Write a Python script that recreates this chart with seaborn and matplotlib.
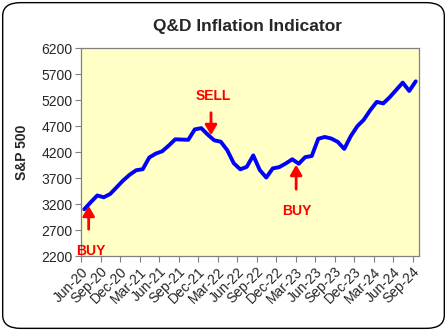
import numpy as np
import pandas as pd
import seaborn as sns
import matplotlib
matplotlib.use("Agg")
import matplotlib.pyplot as plt
from matplotlib.patches import FancyBboxPatch

months = ["Jun-20","Jul-20","Aug-20","Sep-20","Oct-20","Nov-20","Dec-20",
          "Jan-21","Feb-21","Mar-21","Apr-21","May-21","Jun-21","Jul-21","Aug-21","Sep-21","Oct-21","Nov-21","Dec-21",
          "Jan-22","Feb-22","Mar-22","Apr-22","May-22","Jun-22","Jul-22","Aug-22","Sep-22","Oct-22","Nov-22","Dec-22",
          "Jan-23","Feb-23","Mar-23","Apr-23","May-23","Jun-23","Jul-23","Aug-23","Sep-23","Oct-23","Nov-23","Dec-23",
          "Jan-24","Feb-24","Mar-24","Apr-24","May-24","Jun-24","Jul-24","Aug-24","Sep-24"]
sp500 = [3104, 3240, 3370, 3335, 3400, 3530, 3660, 3770, 3855, 3875,
         4100, 4175, 4220, 4330, 4450, 4445, 4440, 4640, 4665, 4540,
         4430, 4404, 4240, 3990, 3873, 3920, 4140, 3860, 3715, 3890,
         3915, 3985, 4066, 3980, 4108, 4128, 4460, 4495, 4465, 4400,
         4265, 4510, 4700, 4825, 5010, 5170, 5140, 5260, 5400, 5540,
         5380, 5565]
tick_labels = ["Jun-20","Sep-20","Dec-20","Mar-21","Jun-21","Sep-21","Dec-21","Mar-22",
               "Jun-22","Sep-22","Dec-22","Mar-23","Jun-23","Sep-23","Dec-23","Mar-24",
               "Jun-24","Sep-24"]
y_ticks = [2200, 2700, 3200, 3700, 4200, 4700, 5200, 5700, 6200]

sns.set_style("white")
plt.rcParams['font.family'] = ['Liberation Sans', 'DejaVu Sans']

df = pd.DataFrame({"pos": np.arange(len(sp500)) + 0.5, "value": sp500})

fig = plt.figure(figsize=(4.47, 3.31), dpi=100)
fig.patch.set_facecolor("white")
border = FancyBboxPatch((0.006, 0.008), 0.988, 0.984, boxstyle="round,pad=0,rounding_size=0.04",
                        transform=fig.transFigure, facecolor="white", edgecolor="black",
                        linewidth=1.0, zorder=-10)
fig.patches.append(border)

ax = fig.add_axes([81/447, 1 - 256.3/331, 338/447, 208/331])
ax.set_facecolor("#FFFFC6")
sns.lineplot(data=df, x="pos", y="value", ax=ax, color="#0000FF", linewidth=2.8)
for ln in ax.get_lines():
    ln.set_solid_joinstyle("round")
    ln.set_solid_capstyle("round")

ax.set_xlim(0, len(sp500))
ax.set_ylim(2200, 6200)
ax.set_yticks(y_ticks)
ax.set_yticklabels([str(v) for v in y_ticks], fontsize=10)
tick_pos = np.arange(0, len(sp500), 3)
ax.set_xticks(tick_pos)
ax.set_xticklabels(tick_labels, rotation=45, ha="right", rotation_mode="anchor", fontsize=10)
ax.tick_params(axis="both", direction="out", length=4, width=0.8, color="#808080",
               bottom=True, left=True, pad=2)
ax.set_xlabel("")
ax.set_ylabel("S&P 500", fontsize=10, fontweight="bold", labelpad=9)
for s in ax.spines.values():
    s.set_color("#808080")
    s.set_linewidth(0.9)
ax.grid(False)

fig.text(247.5/447, 1 - 26/331, "Q&D Inflation Indicator", ha="center", va="center",
         fontsize=12.5, fontweight="bold")

red = "#FF0000"
akw = dict(arrowstyle="-|>,head_length=0.6,head_width=0.35", color=red, lw=2.0)
ax.annotate("", xy=(20.0, 4475), xytext=(20.0, 5014), arrowprops=akw)
ax.text(20.3, 5283, "SELL", color=red, fontsize=10, fontweight="bold", ha="center", va="center")
ax.annotate("", xy=(33.1, 4014), xytext=(33.1, 3437), arrowprops=akw)
ax.text(33.2, 3071, "BUY", color=red, fontsize=10, fontweight="bold", ha="center", va="center")
ax.annotate("", xy=(1.18, 3225), xytext=(1.18, 2667), arrowprops=akw)
ax.text(1.54, 2308, "BUY", color=red, fontsize=10, fontweight="bold", ha="center", va="center")

fig.savefig("out.png", dpi=100, facecolor="white")
